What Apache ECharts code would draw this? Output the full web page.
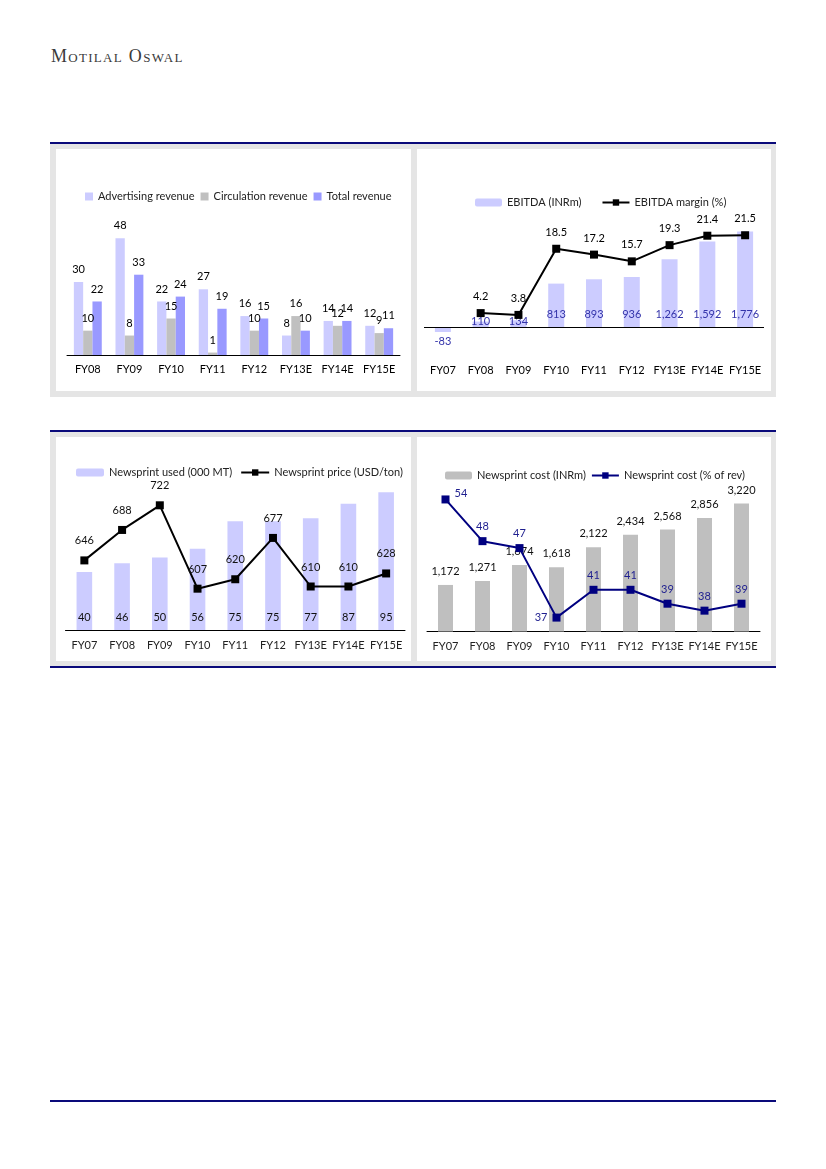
<!DOCTYPE html>
<html><head><meta charset="utf-8">
<script src="https://cdn.jsdelivr.net/npm/echarts@6/dist/echarts.min.js"></script>
<style>
body{margin:0;width:826px;height:1169px;position:relative;background:#fff;overflow:hidden}
.abs{position:absolute}
.navy{background:#0a0a7a;height:2px}
.gray{background:#e5e5e5}
.white{background:#fff}
</style></head><body>
<div class="abs" style="left:51px;top:46px;line-height:20px;font-family:'Liberation Serif',serif;font-size:18px;font-variant:small-caps;letter-spacing:1.3px;color:#3a3a3a;white-space:nowrap">Motilal Oswal</div>
<div class="abs navy" style="left:50px;top:142px;width:726px"></div>
<div class="abs gray" style="left:50px;top:144px;width:726px;height:253px"></div>
<div class="abs white" style="left:56px;top:149px;width:355px;height:242px"></div>
<div class="abs white" style="left:417px;top:149px;width:354px;height:242px"></div>
<div class="abs navy" style="left:50px;top:430px;width:726px"></div>
<div class="abs gray" style="left:50px;top:432px;width:726px;height:234px"></div>
<div class="abs white" style="left:56px;top:437px;width:355px;height:224px"></div>
<div class="abs white" style="left:417px;top:437px;width:354px;height:224px"></div>
<div class="abs navy" style="left:50px;top:666px;width:726px"></div>
<div class="abs navy" style="left:50px;top:1100px;width:726px"></div>
<div id="c" class="abs" style="left:0;top:0;width:826px;height:1169px"></div>
<script>
// ---- data ----
const catsRev = ['FY08','FY09','FY10','FY11','FY12','FY13E','FY14E','FY15E'];
const advRevenue = [30,48,22,27,16,8,14,12];
const circRevenue = [10,8,15,1,10,16,12,9];
const totalRevenue = [22,33,24,19,15,10,14,11];

const catsYears = ['FY07','FY08','FY09','FY10','FY11','FY12','FY13E','FY14E','FY15E'];
const ebitda = [-83,110,134,813,893,936,1262,1592,1776];
const ebitdaMargin = [null,4.2,3.8,18.5,17.2,15.7,19.3,21.4,21.5];

const newsprintUsed = [40,46,50,56,75,75,77,87,95];
const newsprintPrice = [646,688,722,607,620,677,610,610,628];

const newsprintCost = [1172,1271,1674,1618,2122,2434,2568,2856,3220];
const newsprintCostPct = [54,48,47,37,41,41,39,38,39];

// ---- chart ----
const FONT = 'Lato';
const fmt = p => Number(p.value).toLocaleString('en-US');
const chart = echarts.init(document.getElementById('c'), null, {renderer:'canvas'});

const xBase = (gi, cats, extra) => Object.assign({
  type:'category', gridIndex:gi, data:cats,
  axisTick:{show:false},
  axisLine:{show:true, onZero:false, lineStyle:{color:'#000', width:1}},
  axisLabel:{color:'#000', fontSize:11, fontFamily:FONT, margin:9, interval:0}
}, extra||{});
const yHidden = (gi, min, max) => ({type:'value', gridIndex:gi, min, max, show:false, splitLine:{show:false}});
const legendText = {fontSize:11, fontFamily:FONT, color:'#222'};

const minPct = Math.min(...newsprintCostPct);

const option = {
  animation:false,
  textStyle:{fontFamily:FONT},
  grid:[
    {left:67, top:209, width:333, height:146},
    {left:424, top:219.5, width:340, height:135},
    {left:65.5, top:485, width:339.5, height:145},
    {left:427, top:492.5, width:333, height:139}
  ],
  xAxis:[
    xBase(0, catsRev),
    xBase(1, catsYears, {axisLine:{show:false}, axisLabel:{color:'#000', fontSize:11, fontFamily:FONT, margin:10, interval:0}}),
    xBase(2, catsYears, {axisLabel:{color:'#222', fontSize:11, fontFamily:FONT, margin:10, interval:0}}),
    xBase(3, catsYears, {axisLabel:{color:'#222', fontSize:11, fontFamily:FONT, margin:9, interval:0}})
  ],
  yAxis:[
    yHidden(0, 0, 60),
    yHidden(1, -500, 2000),
    yHidden(1, -5, 25),
    yHidden(2, 0, 100),
    yHidden(2, 550, 750),
    yHidden(3, 0, 3500),
    yHidden(3, 35, 55)
  ],
  legend:[
    {data:['Advertising revenue','Circulation revenue','Total revenue'], left:80, top:186,
     itemWidth:8, itemHeight:8, itemGap:6, textStyle:legendText, icon:'rect'},
    {data:['EBITDA (INRm)','EBITDA margin (%)'], left:470, top:192,
     itemWidth:27, itemHeight:8, itemGap:20, textStyle:legendText},
    {data:['Newsprint used (000 MT)','Newsprint price (USD/ton)'], left:71, top:462,
     itemWidth:28, itemHeight:8, itemGap:8, textStyle:legendText},
    {data:['Newsprint cost (INRm)','Newsprint cost (% of rev)'], left:440, top:465,
     itemWidth:27, itemHeight:8, itemGap:5, textStyle:legendText}
  ],
  series:[
    {name:'Advertising revenue', type:'bar', xAxisIndex:0, yAxisIndex:0, data:advRevenue,
     barWidth:9.3, barGap:'0%', itemStyle:{color:'#CCCCFF'},
     label:{show:true, position:'top', distance:7, color:'#000', fontSize:11, fontFamily:FONT}},
    {name:'Circulation revenue', type:'bar', xAxisIndex:0, yAxisIndex:0, data:circRevenue,
     barWidth:9.3, barGap:'0%', itemStyle:{color:'#C0C0C0'},
     label:{show:true, position:'top', distance:7, color:'#000', fontSize:11, fontFamily:FONT}},
    {name:'Total revenue', type:'bar', xAxisIndex:0, yAxisIndex:0, data:totalRevenue,
     barWidth:9.3, barGap:'0%', itemStyle:{color:'#9999FF'},
     label:{show:true, position:'top', distance:7, color:'#000', fontSize:11, fontFamily:FONT}},

    {name:'EBITDA (INRm)', type:'bar', xAxisIndex:1, yAxisIndex:1, barWidth:16,
     itemStyle:{color:'#CCCCFF'},
     data: ebitda.map(v => v < 0 ? {value:v, label:{position:'bottom', distance:4}}
                       : (v < 300 ? {value:v, label:{distance:1}} : v)),
     label:{show:true, position:'insideBottom', distance:8, color:'#3333AA', fontSize:11, fontFamily:FONT, formatter:fmt},
     markLine:{silent:true, symbol:'none', label:{show:false}, data:[{yAxis:0}],
       lineStyle:{color:'#000', type:'solid', width:1}}},
    {name:'EBITDA margin (%)', type:'line', xAxisIndex:1, yAxisIndex:2,
     data: ebitdaMargin.map(v => v === null ? '-' : v),
     symbol:'rect', symbolSize:8, lineStyle:{color:'#000', width:2}, itemStyle:{color:'#000'},
     label:{show:true, position:'top', distance:7, color:'#000', fontSize:11, fontFamily:FONT}},

    {name:'Newsprint used (000 MT)', type:'bar', xAxisIndex:2, yAxisIndex:3, data:newsprintUsed,
     barWidth:15.6, itemStyle:{color:'#CCCCFF'},
     label:{show:true, position:'insideBottom', distance:7, color:'#111', fontSize:11, fontFamily:FONT}},
    {name:'Newsprint price (USD/ton)', type:'line', xAxisIndex:2, yAxisIndex:4, data:newsprintPrice,
     symbol:'rect', symbolSize:8, lineStyle:{color:'#000', width:2}, itemStyle:{color:'#000'},
     label:{show:true, position:'top', distance:10, color:'#111', fontSize:11, fontFamily:FONT}},

    {name:'Newsprint cost (INRm)', type:'bar', xAxisIndex:3, yAxisIndex:5, data:newsprintCost,
     barWidth:15, itemStyle:{color:'#BFBFBF'},
     label:{show:true, position:'top', distance:8, color:'#111', fontSize:11, fontFamily:FONT, formatter:fmt}},
    {name:'Newsprint cost (% of rev)', type:'line', xAxisIndex:3, yAxisIndex:6,
     data: newsprintCostPct.map((v,i) => i === 0 ? {value:v, label:{position:'right', offset:[0,-6]}}
                                  : (v === minPct ? {value:v, label:{position:'left'}} : v)),
     symbol:'rect', symbolSize:8, lineStyle:{color:'#000080', width:2}, itemStyle:{color:'#000080'},
     label:{show:true, position:'top', distance:5, color:'#1F1F8F', fontSize:11, fontFamily:FONT}}
  ]
};
chart.setOption(option);
</script>
</body></html>
